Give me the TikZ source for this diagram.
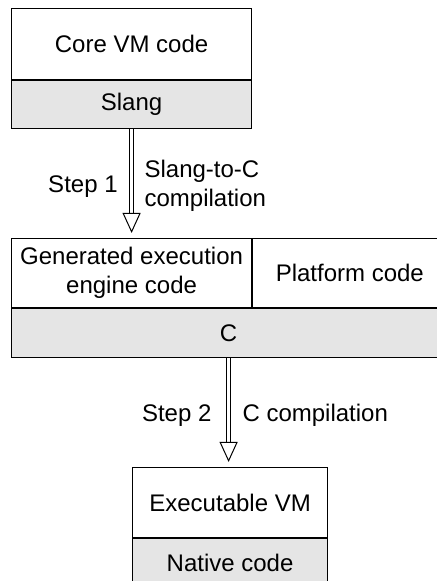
\documentclass[tikz,border=0pt]{standalone}
\usepackage{fontspec}
\setmainfont{Liberation Sans}
\usetikzlibrary{positioning,arrows.meta}

\begin{document}
\begin{tikzpicture}[x=0.5pt, y=0.5pt, font=\fontsize{12pt}{14.5pt}\selectfont,
	layer/.style={draw, line width=0.6pt, inner sep=0pt, align=center, anchor=north west},
	lang/.style={layer, fill=black!10},
	build/.style={draw, line width=0.5pt, double, double distance=1.5pt, shorten >=2.5pt,
		-{Triangle[open, length=10pt, width=9pt, line width=0.5pt]}}]
	\useasboundingbox (0,0) rectangle (437,581);
	\clip (0,0) rectangle (437,581);
	\node [layer, minimum width=120pt, minimum height=35.5pt] (core) at (11,573) {Core VM code};
	\node [lang, minimum width=120pt, minimum height=24pt] (slang) at (core.south west) {Slang};
	\node [layer, minimum width=120pt, minimum height=34.5pt] (gen) at (11,343) {Generated execution \\ engine code};
	\node [layer, minimum width=97pt, minimum height=34.5pt] (plat) at (gen.north east) {Platform code};
	\node [lang, minimum width=217pt, minimum height=24.5pt] (clang) at (gen.south west) {C};
	\node [layer, minimum width=97.5pt, minimum height=35pt] (exe) at (132,114) {Executable VM};
	\node [lang, minimum width=97.5pt, minimum height=24pt] (native) at (exe.south west) {Native code};
	\draw [build] (slang.south) -- (gen.north)
		node [midway, left=3.4pt, yshift=-1.5pt] (step1) {Step 1}
		node [midway, right=2.9pt, yshift=-1pt, align=left] (s2c) {Slang-to-C \\ compilation};
	\draw [build] (clang.south) -- (clang.south |- exe.north)
		node [midway, left=5pt, yshift=-1.5pt] (step2) {Step 2}
		node [midway, right=3.4pt, yshift=-1.5pt] (ccomp) {C compilation};
\end{tikzpicture}
\end{document}
